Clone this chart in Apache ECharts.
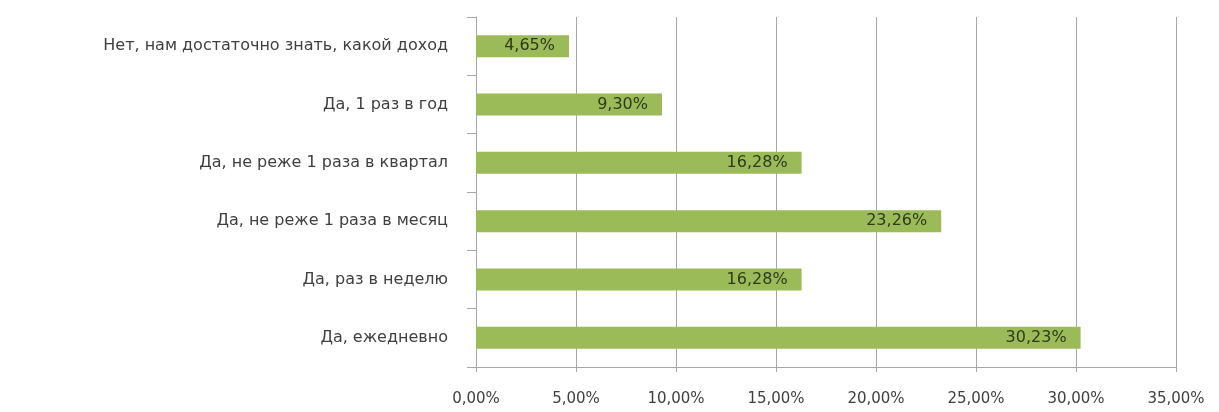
<!DOCTYPE html>
<html>
<head>
<meta charset="utf-8">
<script src="https://cdn.jsdelivr.net/npm/echarts@6/dist/echarts.min.js"></script>
<style>
  html, body { margin: 0; padding: 0; background: #ffffff; }
  #chart { width: 1219px; height: 412px; }
</style>
</head>
<body>
<div id="chart"></div>
<script>
// Answer options, listed bottom to top as the category axis draws them
const categories = [
  'Да, ежедневно',
  'Да, раз в неделю',
  'Да, не реже 1 раза в месяц',
  'Да, не реже 1 раза в квартал',
  'Да, 1 раз в год',
  'Нет, нам достаточно знать, какой доход'
];
// Share of respondents, percent
const shares = [30.23, 16.28, 23.26, 16.28, 9.30, 4.65];
// Value axis range and step, percent
const axisMin = 0;
const axisMax = 35;
const axisStep = 5;

const fmt = v => v.toFixed(2).replace('.', ',') + '%';
const FONT = '"DejaVu Sans", "Liberation Sans", sans-serif';

const chart = echarts.init(document.getElementById('chart'), null, { renderer: 'canvas' });
chart.setOption({
  animation: false,
  backgroundColor: '#ffffff',
  grid: { left: 476, right: 43, top: 17, bottom: 45, containLabel: false },
  xAxis: {
    type: 'value',
    min: axisMin,
    max: axisMax,
    interval: axisStep,
    axisLine: { show: true, lineStyle: { color: '#a6a6a6', width: 1 } },
    axisTick: { show: true, length: 5, lineStyle: { color: '#a6a6a6' } },
    splitLine: { show: true, lineStyle: { color: '#a6a6a6', width: 1 } },
    axisLabel: {
      margin: 25,
      color: '#404040',
      fontFamily: FONT,
      fontSize: 15,
      formatter: v => fmt(v)
    }
  },
  yAxis: {
    type: 'category',
    data: categories,
    axisLine: { show: true, lineStyle: { color: '#a6a6a6', width: 1 } },
    axisTick: { show: true, length: 9, alignWithLabel: false, lineStyle: { color: '#a6a6a6' } },
    splitLine: { show: false },
    axisLabel: {
      margin: 28,
      color: '#404040',
      fontFamily: FONT,
      fontSize: 16
    }
  },
  series: [{
    type: 'bar',
    data: shares,
    barWidth: 22,
    itemStyle: { color: '#9bbb59' },
    label: {
      show: true,
      position: 'insideRight',
      distance: 14,
      color: '#2f3a1c',
      fontFamily: FONT,
      fontSize: 16,
      formatter: p => fmt(p.value)
    }
  }]
});
</script>
</body>
</html>
